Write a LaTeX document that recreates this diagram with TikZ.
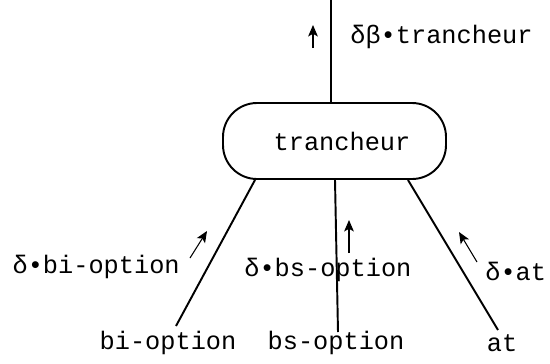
\documentclass[tikz,border=0pt]{standalone}
\usepackage{fontspec}
\setmonofont{Liberation Mono}
\usetikzlibrary{arrows.meta}
\tikzset{
  lbl/.style={font=\fontsize{14.4}{17}\ttfamily, inner sep=0pt},
  wire/.style={line width=1.1pt},
  flow/.style={line width=0.6pt, ->}
}
\begin{document}
\begin{tikzpicture}[>={Stealth[length=6.5pt,width=5.5pt,inset=1.5pt]}]
\useasboundingbox (0,0) rectangle (11,7.26);
% module
\node[lbl, draw, line width=1.1pt, rounded corners=0.68cm, minimum width=4.46cm,
  minimum height=1.52cm, inner sep=0pt] (trancheur) at (6.69,4.44) {\hspace*{0.3cm}trancheur};
% output
\coordinate (out) at (6.62,7.26);
\draw[wire] (out) -- (out |- trancheur.north);
\coordinate (outA) at (6.26,6.30);
\coordinate (outB) at (6.26,6.76);
\draw[flow] (outA) -- (outB);
\node[lbl, anchor=west] (dtr) at (7.0,6.52) {δβ•trancheur};
% inputs
\node[lbl] (bi) at (3.36,0.40) {bi-option};
\node[lbl] (bs) at (6.72,0.40) {bs-option};
\node[lbl] (at) at (10.04,0.40) {at};
\coordinate (biE) at (3.52,0.74);
\coordinate (bsE) at (6.76,0.62);
\coordinate (atE) at (9.96,0.66);
\draw[wire] (biE) -- (5.10,0 |- trancheur.south);
\draw[wire] (bsE) -- (6.70,0 |- trancheur.south);
\draw[wire] (atE) -- (8.16,0 |- trancheur.south);
% deltas
\coordinate (biA) at (3.80,2.10);
\coordinate (biB) at (4.14,2.64);
\coordinate (bsA) at (6.98,2.20);
\coordinate (bsB) at (6.98,2.86);
\coordinate (atA) at (9.54,2.02);
\coordinate (atB) at (9.18,2.62);
\draw[flow] (biA) -- (biB);
\draw[flow] (bsA) -- (bsB);
\draw[flow] (atA) -- (atB);
\node[lbl, anchor=east] (dbi) at (3.60,1.92) {δ•bi-option};
\node[lbl, anchor=west] (dbs) at (4.88,1.86) {δ•bs-option};
\node[lbl, anchor=west] (dat) at (9.70,1.84) {δ•at};
\end{tikzpicture}
\end{document}
